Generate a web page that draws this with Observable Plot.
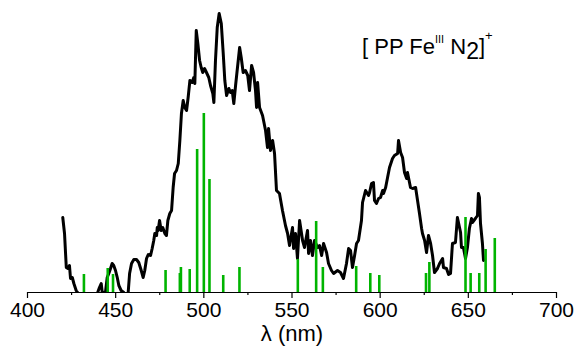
<!DOCTYPE html>
<html>
<head>
<meta charset="utf-8">
<script src="https://cdn.jsdelivr.net/npm/d3@7"></script>
<script src="https://cdn.jsdelivr.net/npm/@observablehq/plot@0.6"></script>
<style>
  html, body { margin: 0; padding: 0; background: white; }
  #chart svg { display: block; }
</style>
</head>
<body>
<div id="chart"></div>
<script>
// Experimental spectrum (wavelength nm, intensity a.u.)
const specNm = [420.0,421.0,422.0,422.9,423.8,424.4,425.4,426.3,427.6,428.8,431,435,439,440.8,441.8,442.4,444.2,445.2,446.1,447.1,448.0,448.9,449.9,450.9,451.8,453.1,454.6,456,457.1,457.9,459.0,460.3,461.8,463.1,464.5,465.6,466.5,467.5,468.5,469.8,470.7,471.6,472.2,473.2,473.6,474.1,474.9,475.8,476.7,477.9,478.8,479.6,480.7,481.7,482.6,483.4,484.5,485.5,486.4,487.3,488.3,489.2,490.2,491.1,492.1,493.4,494.3,494.9,495.7,496.6,497.6,498.5,499.4,500.4,501.5,502.8,503.8,505.1,505.7,506.6,507.6,508.7,509.9,511.0,511.9,512.9,514.2,515.1,516.1,517.0,518.0,518.9,520.3,521.2,522.3,523.6,524.9,525.9,527.1,528.2,529.3,529.9,530.5,531.6,533.3,535.0,536.1,536.7,537.8,539.0,540.1,541.2,542.9,544.6,546.3,547.5,548.6,550.3,550.9,552.0,553.1,554.3,556.0,557.1,558.8,559.4,560.5,561.6,562.8,564.5,565.6,566.8,567.9,569.6,570.7,572.4,573.6,575.8,577.5,579.2,580.9,582.1,583.2,584.3,585.5,586.6,587.7,589.4,590.0,591.7,593.4,594.0,595.1,596.2,596.8,597.9,599.1,600.2,601.4,601.9,603.1,604.2,605.3,607.0,608.1,609.9,610.4,611.6,612.7,613.8,615.0,615.5,617.2,618.4,620.1,621.2,622.3,623.5,624.0,625.2,626.3,627.4,628.6,629.7,630.8,632.5,633.7,635.4,635.9,637.6,638.8,639.9,641.0,642.7,643.8,645.6,646.1,647.2,648.4,649.5,650.6,651.8,652.3,654.0,655.2,655.7,656.3,656.9,658.0,658.6];
const specVal = [75,59,25,24,27,14,15,9,2,-1,-12,-10,-4,5,9,0,0,15,19,24,29,27,22,15,7,2,0,-6,0,19,29,33,33,30,22,15,22,34,38,37,44,52,59,57,65,62,72,62,65,59,57,72,79,82,105,119,122,129,152,179,192,185,182,195,212,210,215,209,262,249,232,225,220,224,220,215,207,199,190,232,265,279,269,239,212,197,204,200,202,189,207,222,245,235,220,222,217,202,227,220,202,185,210,185,177,162,145,164,142,152,139,102,99,82,67,59,47,65,44,59,34,72,52,45,62,39,52,37,52,45,47,37,49,40,29,22,19,22,20,14,29,44,42,25,37,49,52,72,90,102,97,100,109,110,92,89,94,95,102,99,105,115,125,134,137,139,152,140,135,120,114,120,105,104,105,92,79,64,59,52,40,57,49,37,20,24,29,34,25,24,18,19,49,50,75,60,45,45,34,45,64,74,70,74,77,99,95,69,49,32];

// Calculated transitions (stick spectrum)
const stickNm = [432.0,445.5,448.5,478.3,486.4,487.0,492.0,496.2,500.0,503.2,511.0,520.2,553.3,563.7,567.5,586.4,594.4,599.5,626.0,627.9,648.4,651.3,656.2,659.8,665.0];
const stickVal = [18,24,18,22,19,25,23,143,179,113,17,25,33,71,25,26,19,17,19,30,75,19,19,43,54];

const majorTicks = [400,450,500,550,600,650,700];
const minorTicks = [425,475,525,575,625,675];
const xLabel = "λ (nm)";

const spec = specNm.map((x, i) => ({x, y: specVal[i]}));
const sticks = stickNm.map((x, i) => ({x, y: stickVal[i]}));

const plot = Plot.plot({
  width: 579,
  height: 353,
  marginLeft: 27,
  marginRight: 23,
  marginTop: 12,
  marginBottom: 61,
  x: {domain: [400, 700], label: null},
  y: {domain: [0, 280], axis: null, label: null},
  style: {fontFamily: "Arial, 'Liberation Sans', sans-serif", fontSize: "21px", color: "black", background: "white"},
  marks: [
    Plot.line(spec, {x: "x", y: "y", stroke: "black", strokeWidth: 3, clip: true, strokeLinejoin: "round"}),
    Plot.ruleX(sticks, {x: "x", y1: 0, y2: "y", stroke: "#00b400", strokeWidth: 2.6}),
    Plot.ruleY([0], {stroke: "black", strokeWidth: 1.2}),
    Plot.axisX({ticks: majorTicks, tickSize: 6, tickPadding: 4, label: null, fontSize: 21, strokeWidth: 1.2}),
    Plot.axisX({ticks: minorTicks, tickSize: 3, tickFormat: () => "", label: null, strokeWidth: 1.2}),
    Plot.text([xLabel], {frameAnchor: "bottom", dy: 48, fontSize: 22})
  ]
});

document.getElementById("chart").appendChild(plot);

// Complex label with superscripts / subscripts
const svg = d3.select(plot);
const t = svg.append("text")
  .attr("x", 362).attr("y", 54)
  .attr("text-anchor", "start")
  .attr("font-family", "Arial, 'Liberation Sans', sans-serif")
  .attr("font-size", 22)
  .attr("fill", "black")
  .style("white-space", "pre");
t.append("tspan").text("[ PP Fe");
t.append("tspan").attr("font-size", 11).attr("dy", -11).text("III");
t.append("tspan").attr("dy", 11).text(" N");
t.append("tspan").attr("font-size", 23).attr("dy", 5).text("2");
t.append("tspan").attr("dy", -5).text("]");
t.append("tspan").attr("font-size", 13).attr("dy", -14).text("+");
</script>
</body>
</html>
